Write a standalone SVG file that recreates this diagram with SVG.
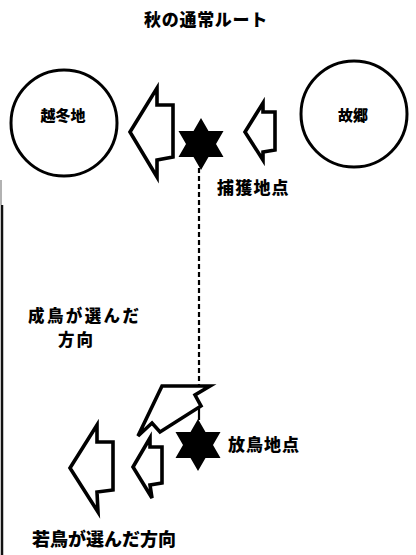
<svg xmlns="http://www.w3.org/2000/svg" width="416" height="555" viewBox="0 0 416 555">
<style>
text{font-family:"Noto Sans CJK JP","Noto Sans CJK SC",sans-serif;font-weight:900;fill:#000}
.place{fill:#fff;stroke:#000;stroke-width:3}
.arrow{fill:#fff;stroke:#000;stroke-width:3.6;stroke-linejoin:miter}
.star{fill:#000}
.route{stroke:#000;stroke-width:2.2;fill:none}
</style>
<defs>
<path id="hex" d="M0,-26 L7.5,-13 L22.5,-13 L15,0 L22.5,13 L7.5,13 L0,26 L-7.5,13 L-22.5,13 L-15,0 L-22.5,-13 L-7.5,-13 Z"/>
</defs>
<rect width="416" height="555" fill="#fff"/>
<line x1="2" y1="205" x2="2" y2="555" stroke="#111" stroke-width="2.5"/>
<line x1="1" y1="180" x2="1" y2="205" stroke="#999" stroke-width="1.5"/>
<text x="206" y="26" font-size="17" text-anchor="middle" letter-spacing="0.7">秋の通常ルート</text>
<g id="connectors">
<line class="route" x1="199" y1="168" x2="199" y2="386" stroke-dasharray="5 3"/>
<line class="route" x1="199" y1="404" x2="199" y2="420"/>
</g>
<g id="winter-ground">
<circle class="place" cx="64" cy="123" r="53"/>
<text x="63" y="121" font-size="15" text-anchor="middle">越冬地</text>
</g>
<g id="homeland">
<circle class="place" cx="354" cy="114" r="53"/>
<text x="353" y="121" font-size="15" text-anchor="middle">故郷</text>
</g>
<g id="arrow-top-big"><polygon class="arrow" points="130,132 157,88 157,105 173,105 173,157 157,160 157,177"/></g>
<g id="arrow-top-small"><polygon class="arrow" points="245,132 263,103 263,112 275,112 275,150 263,152 263,160"/></g>
<g id="capture-point">
<use href="#hex" class="star" transform="translate(201,144)"/>
<text x="217" y="194" font-size="17" letter-spacing="1.2">捕獲地点</text>
</g>
<g id="adult-direction">
<polygon class="arrow" points="162,386 210,386 195,395 201,406 160,432 152,423 138,436"/>
<text x="28" y="322" font-size="16.5" letter-spacing="2.4">成鳥が選んだ</text>
<text x="58" y="346" font-size="16.5" letter-spacing="2">方向</text>
</g>
<g id="release-point">
<use href="#hex" class="star" transform="translate(198,445)"/>
<text x="228" y="451" font-size="17" letter-spacing="1">放鳥地点</text>
</g>
<g id="arrow-bottom-big"><polygon class="arrow" points="70,468 97,425 97,442 113,442 113,490 97,492 98,512"/></g>
<g id="arrow-bottom-small"><polygon class="arrow" points="133,467 150,438 150,447 162,447 162,483 150,485 152,498"/></g>
<g id="young-direction">
<text x="32" y="546" font-size="18">若鳥が選んだ方向</text>
</g>
</svg>
